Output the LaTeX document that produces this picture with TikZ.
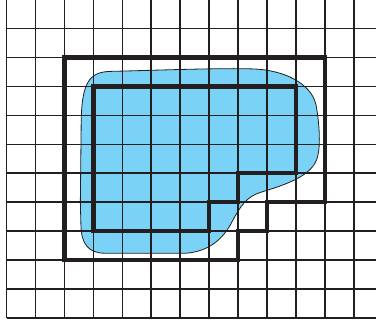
\documentclass[tikz,border=0pt]{standalone}
\definecolor{blobblue}{RGB}{122,211,247}
\definecolor{inkdark}{RGB}{35,31,32}
\tikzset{
  gridline/.style={draw=inkdark, line width=1.6pt},
  thickoutline/.style={draw=inkdark, line width=4.2pt, line join=miter},
  blobline/.style={draw=inkdark, line width=0.8pt}
}
\begin{document}
\begin{tikzpicture}[x=1cm,y=1cm]
\useasboundingbox (-0.225,-0.207) rectangle (12.76,10.985);
\clip (-0.225,-0.207) rectangle (12.76,10.985);
% blob fill
\path[fill=blobblue] (2.55,4.0) -- (2.58,6.9)
  .. controls (2.62,8.2) and (2.9,8.5) .. (3.6,8.52)
  .. controls (5,8.55) and (7.5,8.65) .. (8.6,8.6)
  .. controls (9.6,8.55) and (10.5,8.1) .. (10.68,7.4)
  .. controls (10.8,6.8) and (10.85,6.0) .. (10.75,5.6)
  .. controls (10.6,4.9) and (9.6,4.6) .. (8.8,4.35)
  .. controls (8.3,4.2) and (8.1,3.9) .. (7.8,3.35)
  .. controls (7.5,2.75) and (7.0,2.3) .. (6.2,2.24)
  -- (3.4,2.24)
  .. controls (2.8,2.24) and (2.58,2.6) .. (2.57,3.2) -- cycle;
% grid
\foreach \i in {0,...,12} \draw[gridline] (\i,0) -- (\i,11.2);
\foreach \j in {0,...,11} \draw[gridline] (0,\j) -- (13,\j);
% blob outline
\draw[blobline] (2.55,4.0) -- (2.58,6.9)
  .. controls (2.62,8.2) and (2.9,8.5) .. (3.6,8.52)
  .. controls (5,8.55) and (7.5,8.65) .. (8.6,8.6)
  .. controls (9.6,8.55) and (10.5,8.1) .. (10.68,7.4)
  .. controls (10.8,6.8) and (10.85,6.0) .. (10.75,5.6)
  .. controls (10.6,4.9) and (9.6,4.6) .. (8.8,4.35)
  .. controls (8.3,4.2) and (8.1,3.9) .. (7.8,3.35)
  .. controls (7.5,2.75) and (7.0,2.3) .. (6.2,2.24)
  -- (3.4,2.24)
  .. controls (2.8,2.24) and (2.58,2.6) .. (2.57,3.2) -- cycle;
% outer and inner approximations
\draw[thickoutline] (2,9) -- (11,9) -- (11,4) -- (9,4) -- (9,3) -- (8,3) -- (8,2) -- (2,2) -- cycle;
\draw[thickoutline] (3,8) -- (10,8) -- (10,5) -- (8,5) -- (8,4) -- (7,4) -- (7,3) -- (3,3) -- cycle;
\end{tikzpicture}
\end{document}
